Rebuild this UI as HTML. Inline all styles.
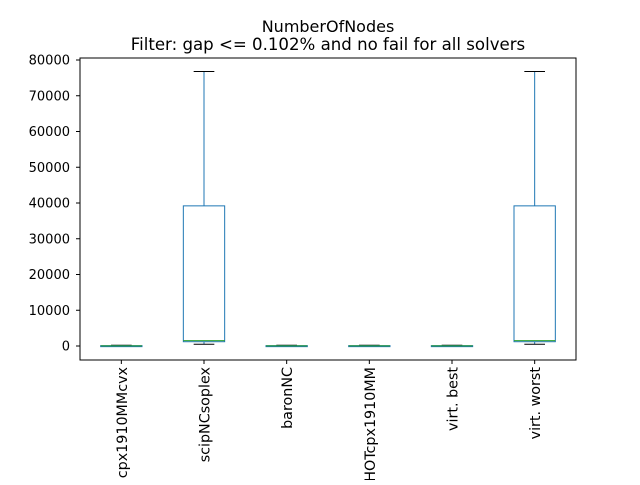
<!DOCTYPE html>
<html><head><meta charset="utf-8"><style>
body{margin:0;background:#fff}
svg text{font-family:"DejaVu Sans","Liberation Sans",sans-serif;fill:#000}
</style></head><body>
<svg id="chart" width="640" height="480" xmlns="http://www.w3.org/2000/svg">
<rect width="640" height="480" fill="#fff"/>
<text x="328" y="32" font-size="16" text-anchor="middle">NumberOfNodes</text>
<text x="328" y="50" font-size="16.6" text-anchor="middle">Filter: gap &lt;= 0.102% and no fail for all solvers</text>
<g id="marks"></g>
<rect x="80" y="58" width="496" height="302" fill="none" stroke="#000" stroke-width="1"/>
<g id="axes"></g>
</svg>
<script>
const categories=["cpx1910MMcvx","scipNCsoplex","baronNC","HOTcpx1910MM","virt. best","virt. worst"];
const whiskerLow=[0,500,0,0,0,500];
const q1=[0,1200,0,0,0,1200];
const medians=[50,1500,50,50,50,1500];
const q3=[100,39200,100,100,100,39200];
const whiskerHigh=[200,76800,200,200,200,76800];
const yTicks=[0,10000,20000,30000,40000,50000,60000,70000,80000];

const NS="http://www.w3.org/2000/svg";
const L=80,R=576,T=58,B=360;
const y0px=346,pxPer=35.75/10000;
function yS(v){return y0px-v*pxPer;}
const step=(R-L)/categories.length;
function xS(i){return L+step*(i+0.5);}
function mk(tag,attrs,parent){const e=document.createElementNS(NS,tag);for(const k in attrs)e.setAttribute(k,attrs[k]);parent.appendChild(e);return e;}
const marks=document.getElementById('marks'),axes=document.getElementById('axes');
categories.forEach((c,i)=>{
  const g=mk('g',{},marks);
  
  
  const cx=xS(i),hw=step*0.25,cw=step*0.125;
  const blue='#1f77b4';
  mk('line',{x1:cx,x2:cx,y1:yS(q3[i]),y2:yS(whiskerHigh[i]),stroke:blue},g);
  mk('line',{x1:cx,x2:cx,y1:yS(q1[i]),y2:yS(whiskerLow[i]),stroke:blue},g);
  mk('line',{x1:cx-cw,x2:cx+cw,y1:yS(whiskerHigh[i]),y2:yS(whiskerHigh[i]),stroke:'#000'},g);
  mk('line',{x1:cx-cw,x2:cx+cw,y1:yS(whiskerLow[i]),y2:yS(whiskerLow[i]),stroke:'#000'},g);
  mk('rect',{x:cx-hw,y:yS(q3[i]),width:2*hw,height:Math.max(1,yS(q1[i])-yS(q3[i])),fill:'none',stroke:blue},g);
  mk('line',{x1:cx-hw,x2:cx+hw,y1:yS(medians[i]),y2:yS(medians[i]),stroke:'#2ca02c'},g);
  mk('line',{x1:cx,x2:cx,y1:B,y2:B+4,stroke:'#000'},axes);
  const t=mk('text',{x:0,y:0,'font-size':'14.3','text-anchor':'end',transform:`translate(${cx+5.5},${B+7}) rotate(-90)`},axes);
  t.textContent=c;
  
  
});
yTicks.forEach(v=>{
  const y=yS(v);
  mk('line',{x1:L-4,x2:L,y1:y,y2:y,stroke:'#000'},axes);
  const t=mk('text',{x:L-10,y:y+4.5,'font-size':'13','text-anchor':'end'},axes);
  t.textContent=v;
  
  
});
</script>
</body></html>
